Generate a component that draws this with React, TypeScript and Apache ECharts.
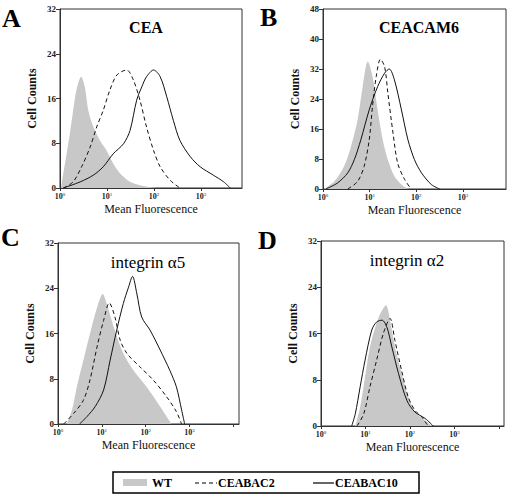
import React, { useEffect, useRef } from "react";
import * as echarts from "echarts";

// x values are log10(Mean Fluorescence), y values are cell counts
const panelLetters = ["A", "B", "C", "D"];
const panelTitles = ["CEA", "CEACAM6", "integrin α5", "integrin α2"];
const yMaxes = [32, 48, 32, 32];
const xMaxes = [3.87, 3.92, 4.13, 4.11];
const xTickLabels = [0, 1, 2, 3];
const seriesNames = ["WT", "CEABAC2", "CEABAC10"];

const aWT: number[][] = [[0.02, 0], [0.07, 2.6], [0.14, 6.1], [0.21, 9.7], [0.28, 13.9], [0.35, 17.5], [0.45, 19.9], [0.53, 18], [0.6, 13.9], [0.71, 10.9], [0.85, 8.5], [0.99, 6.7], [1.13, 4.4], [1.28, 2.6], [1.49, 1.1], [1.7, 0.5], [2.06, 0]];
const aC2: number[][] = [[0.07, 0], [0.28, 1.1], [0.46, 3.8], [0.64, 7.3], [0.78, 10.9], [0.92, 13.9], [1.06, 17.5], [1.21, 20.2], [1.42, 21.1], [1.56, 19.3], [1.7, 15.7], [1.84, 10.9], [1.99, 6.7], [2.13, 3.8], [2.34, 1.4], [2.55, 0]];
const aC10: number[][] = [[0.07, 0], [0.43, 1.1], [0.71, 2.3], [0.92, 3.8], [1.13, 6.1], [1.35, 7.9], [1.49, 10.3], [1.63, 15.7], [1.74, 18.1], [1.84, 19.9], [1.99, 21.1], [2.13, 19.9], [2.27, 16.3], [2.41, 12.1], [2.55, 8.5], [2.77, 5.6], [2.98, 3.8], [3.26, 2.3], [3.48, 1.1], [3.62, 0]];

const bWT: number[][] = [[0.02, 0], [0.24, 2.0], [0.45, 6.0], [0.6, 11.4], [0.74, 18.4], [0.85, 27.3], [0.96, 34.0], [1.06, 30], [1.17, 21.1], [1.28, 13.1], [1.39, 7.8], [1.53, 3.4], [1.68, 1.2], [1.82, 0]];
const bC2: number[][] = [[0.53, 0], [0.74, 2.0], [0.88, 6.0], [0.99, 13.1], [1.06, 22], [1.14, 30], [1.23, 34.6], [1.32, 32.6], [1.39, 25.5], [1.5, 14.9], [1.6, 6.9], [1.75, 2.5], [1.89, 0]];
const bC10: number[][] = [[0.06, 0], [0.31, 1.6], [0.53, 4.3], [0.67, 7.8], [0.81, 13.1], [0.99, 21.1], [1.17, 27.3], [1.32, 30.9], [1.42, 32], [1.53, 29.1], [1.68, 21.1], [1.82, 13.1], [1.96, 7.8], [2.11, 4.3], [2.32, 1.2], [2.5, 0]];

const cWT: number[][] = [[0.2, 0], [0.32, 2.5], [0.43, 6.6], [0.58, 11.3], [0.77, 17.2], [0.92, 21.3], [1.02, 23], [1.11, 21.3], [1.27, 17.2], [1.49, 12.5], [1.72, 9.5], [2.02, 6.6], [2.33, 3.1], [2.59, 0]];
const cC2: number[][] = [[0.13, 0], [0.36, 1.9], [0.58, 4.2], [0.73, 7.8], [0.89, 13.6], [1.04, 18.3], [1.17, 21.4], [1.3, 18.9], [1.42, 14.8], [1.57, 12.5], [1.87, 10.1], [2.17, 7.8], [2.48, 4.8], [2.7, 2.2], [2.82, 0]];
const cC10: number[][] = [[0.49, 0], [0.66, 1.3], [0.85, 3.1], [1.04, 6.0], [1.19, 11.3], [1.34, 16.6], [1.49, 21.3], [1.61, 24.2], [1.7, 26.1], [1.8, 23], [1.91, 18.9], [2.1, 16.6], [2.33, 13.1], [2.55, 9.5], [2.7, 6.6], [2.82, 2.5], [2.89, 0]];

const dWT: number[][] = [[0.77, 0], [0.88, 3.3], [0.99, 8.5], [1.1, 13.7], [1.22, 17.1], [1.33, 19.4], [1.46, 20.9], [1.55, 18.3], [1.66, 13.7], [1.81, 9.1], [1.96, 5.0], [2.11, 2.4], [2.34, 1.0], [2.49, 0]];
const dC2: number[][] = [[0.81, 0], [0.96, 2.1], [1.1, 6.8], [1.25, 11.4], [1.4, 16], [1.55, 18.6], [1.66, 14.8], [1.81, 9.6], [1.96, 5.0], [2.11, 2.7], [2.26, 1.6], [2.37, 0.4], [2.41, 0]];
const dC10: number[][] = [[0.69, 0], [0.77, 2.1], [0.88, 6.8], [0.99, 11.4], [1.14, 16.6], [1.25, 18], [1.37, 18.3], [1.48, 17.1], [1.59, 13.7], [1.74, 9.1], [1.93, 4.4], [2.11, 2.4], [2.34, 1.3], [2.52, 0]];

const panelData = [
  [aWT, aC2, aC10],
  [bWT, bC2, bC10],
  [cWT, cC2, cC10],
  [dWT, dC2, dC10],
];

const SERIF = "'Liberation Serif', 'Times New Roman', serif";

// layout (pixels)
const grids = [
  { left: 60, top: 9, width: 182, height: 179 },
  { left: 323, top: 9, width: 183, height: 180 },
  { left: 58, top: 243, width: 181, height: 181 },
  { left: 321, top: 241, width: 183, height: 185 },
];
const letterPos = [[2, 5], [260, 4], [1, 224], [258, 227]];
const titlePos = [[146, 27], [419, 27], [148, 262], [407, 260]];

export default function App() {
  const ref = useRef<HTMLDivElement>(null);
  useEffect(() => {
    if (!ref.current) return;
    const chart = echarts.init(ref.current, undefined, { renderer: "svg" });
    const axisColor = "#333";
    const xAxes = grids.map((_, i) => ({
      type: "value",
      gridIndex: i,
      min: 0,
      max: xMaxes[i],
      interval: 1,
      name: "Mean Fluorescence",
      nameLocation: "middle",
      nameGap: 15,
      nameTextStyle: { fontFamily: SERIF, fontSize: 12, color: "#111" },
      axisLine: { show: true, lineStyle: { color: axisColor, width: 1 } },
      axisTick: { show: true, length: 3, lineStyle: { color: axisColor } },
      splitLine: { show: false },
      axisLabel: {
        margin: 4,
        showMaxLabel: false,
        formatter: (v: number) => {
          const r = Math.round(v);
          return Math.abs(v - r) < 1e-6 && xTickLabels.includes(r) ? `{b|10}{s|${r}}` : "";
        },
        rich: {
          b: { fontFamily: SERIF, fontSize: 8, fontWeight: "bold", color: "#222", lineHeight: 9 },
          s: { fontFamily: SERIF, fontSize: 5, color: "#222", lineHeight: 5, verticalAlign: "top" },
        },
      },
    }));
    const yAxes = grids.map((_, i) => ({
      type: "value",
      gridIndex: i,
      min: 0,
      max: yMaxes[i],
      interval: 8,
      name: "Cell Counts",
      nameLocation: "middle",
      nameGap: 22,
      nameRotate: 90,
      nameTextStyle: { fontFamily: SERIF, fontSize: 12, fontWeight: "bold", color: "#111" },
      axisLine: { show: true, lineStyle: { color: axisColor, width: 1 } },
      axisTick: { show: true, length: 4, lineStyle: { color: axisColor } },
      splitLine: { show: false },
      axisLabel: { margin: 4, fontFamily: SERIF, fontSize: 9, fontWeight: "bold", color: "#222" },
    }));
    const series: any[] = [];
    panelData.forEach((sets, i) => {
      series.push({
        type: "line",
        name: seriesNames[0],
        xAxisIndex: i,
        yAxisIndex: i,
        data: sets[0],
        smooth: 0.3,
        symbol: "none",
        lineStyle: { width: 0, color: "#c8c8c8" },
        areaStyle: { color: "#c8c8c8", opacity: 1 },
        z: 1,
      });
      series.push({
        type: "line",
        name: seriesNames[1],
        xAxisIndex: i,
        yAxisIndex: i,
        data: sets[1],
        smooth: 0.3,
        symbol: "none",
        lineStyle: { width: 1, color: "#111", type: [4, 3] },
        z: 3,
      });
      series.push({
        type: "line",
        name: seriesNames[2],
        xAxisIndex: i,
        yAxisIndex: i,
        data: sets[2],
        smooth: 0.3,
        symbol: "none",
        lineStyle: { width: 1, color: "#111" },
        z: 3,
      });
    });

    const graphics: any[] = [];
    panelLetters.forEach((l, i) => {
      graphics.push({
        type: "text",
        x: letterPos[i][0],
        y: letterPos[i][1],
        style: { text: l, font: `bold 26px ${SERIF}`, fill: "#000" },
      });
      graphics.push({
        type: "text",
        x: titlePos[i][0],
        y: titlePos[i][1],
        style: {
          text: panelTitles[i],
          font: i < 2 ? `bold 16px ${SERIF}` : `17px ${SERIF}`,
          fill: "#000",
          textAlign: "center",
          textVerticalAlign: "middle",
        },
      });
    });
    // legend box
    graphics.push({ type: "rect", shape: { x: 113, y: 472, width: 306, height: 21 }, style: { fill: "#fff", stroke: "#000", lineWidth: 1.5 } });
    graphics.push({ type: "rect", shape: { x: 123, y: 479, width: 24, height: 7 }, style: { fill: "#c8c8c8" } });
    graphics.push({ type: "text", x: 152, y: 483, style: { text: seriesNames[0], font: `bold 12px ${SERIF}`, fill: "#000", textVerticalAlign: "middle" } });
    graphics.push({ type: "line", shape: { x1: 195, y1: 483, x2: 217, y2: 483 }, style: { stroke: "#000", lineWidth: 1.2, lineDash: [4, 3] } });
    graphics.push({ type: "text", x: 218, y: 483, style: { text: seriesNames[1], font: `bold 12px ${SERIF}`, fill: "#000", textVerticalAlign: "middle" } });
    graphics.push({ type: "line", shape: { x1: 313, y1: 483, x2: 334, y2: 483 }, style: { stroke: "#000", lineWidth: 1.2 } });
    graphics.push({ type: "text", x: 335, y: 483, style: { text: seriesNames[2], font: `bold 12px ${SERIF}`, fill: "#000", textVerticalAlign: "middle" } });

    chart.setOption({
      animation: false,
      backgroundColor: "#fff",
      grid: grids.map((g) => ({ ...g, show: true, borderColor: axisColor, borderWidth: 1, backgroundColor: "transparent" })),
      xAxis: xAxes,
      yAxis: yAxes,
      series,
      graphic: graphics,
    });
    return () => chart.dispose();
  }, []);
  return <div ref={ref} style={{ width: 510, height: 496, position: "absolute", left: 0, top: 0 }} />;
}
